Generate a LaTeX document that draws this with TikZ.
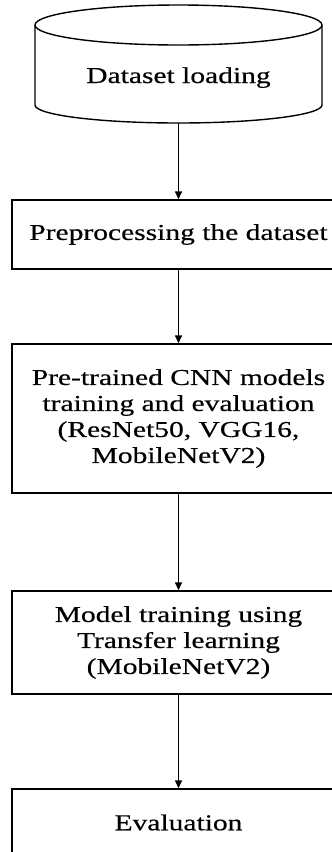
\documentclass[tikz,border=0pt]{standalone}
\usepackage{fontspec}
\setmainfont[FakeStretch=1.3, FakeBold=0.4]{Liberation Serif}
\usetikzlibrary{arrows.meta}

\tikzset{
  stagebox/.style={draw=black, line width=1.4pt, fill=white, rectangle,
    inner sep=0pt, minimum width=333pt, align=center,
    font=\fontsize{22.7pt}{26pt}\selectfont},
  flowarrow/.style={draw=black, line width=1.4pt,
    -{Triangle[length=8pt,width=7pt]}},
  cylline/.style={draw=black, line width=1.4pt}
}

\begin{document}
\begin{tikzpicture}[x=1pt, y=-1pt]
  \useasboundingbox (0,0) rectangle (332,852);
  \clip (0,0) rectangle (332,852);

  % storage cylinder holding the data
  \node[inner sep=0pt, minimum width=287pt, minimum height=98pt,
        font=\fontsize{22.7pt}{26pt}\selectfont] (load) at (178.5,74) {};
  \path[cylline, fill=white]
    (35,25) -- (35,105) arc[start angle=180, end angle=360, x radius=143.5, y radius=-18]
    -- (322,25);
  \draw[cylline] (178.5,25) ellipse[x radius=143.5, y radius=20];
  \node[font=\fontsize{22.7pt}{26pt}\selectfont, inner sep=0pt, anchor=base]
    (loadtxt) at (178.5,83) {Dataset loading};
  \coordinate (loadbot) at (178.5,123);

  % processing stages
  \node[stagebox, minimum height=69pt]  (prep)  at (178.5,234.5) {Preprocessing the dataset};
  \node[stagebox, minimum height=149pt] (cnn)   at (178.5,418.5)
    {Pre-trained CNN models\\training and evaluation\\(ResNet50, VGG16,\\MobileNetV2)};
  \node[stagebox, minimum height=103pt] (tl)    at (178.5,642.5)
    {Model training using\\Transfer learning\\(MobileNetV2)};
  \node[stagebox, minimum height=67pt]  (eval)  at (178.5,822.5) {Evaluation};

  % flow between the stages
  \draw[flowarrow] (loadbot) -- (prep.north);
  \draw[flowarrow] (prep.south) -- (cnn.north);
  \draw[flowarrow] (cnn.south) -- (tl.north);
  \draw[flowarrow] (tl.south) -- (eval.north);
\end{tikzpicture}
\end{document}
